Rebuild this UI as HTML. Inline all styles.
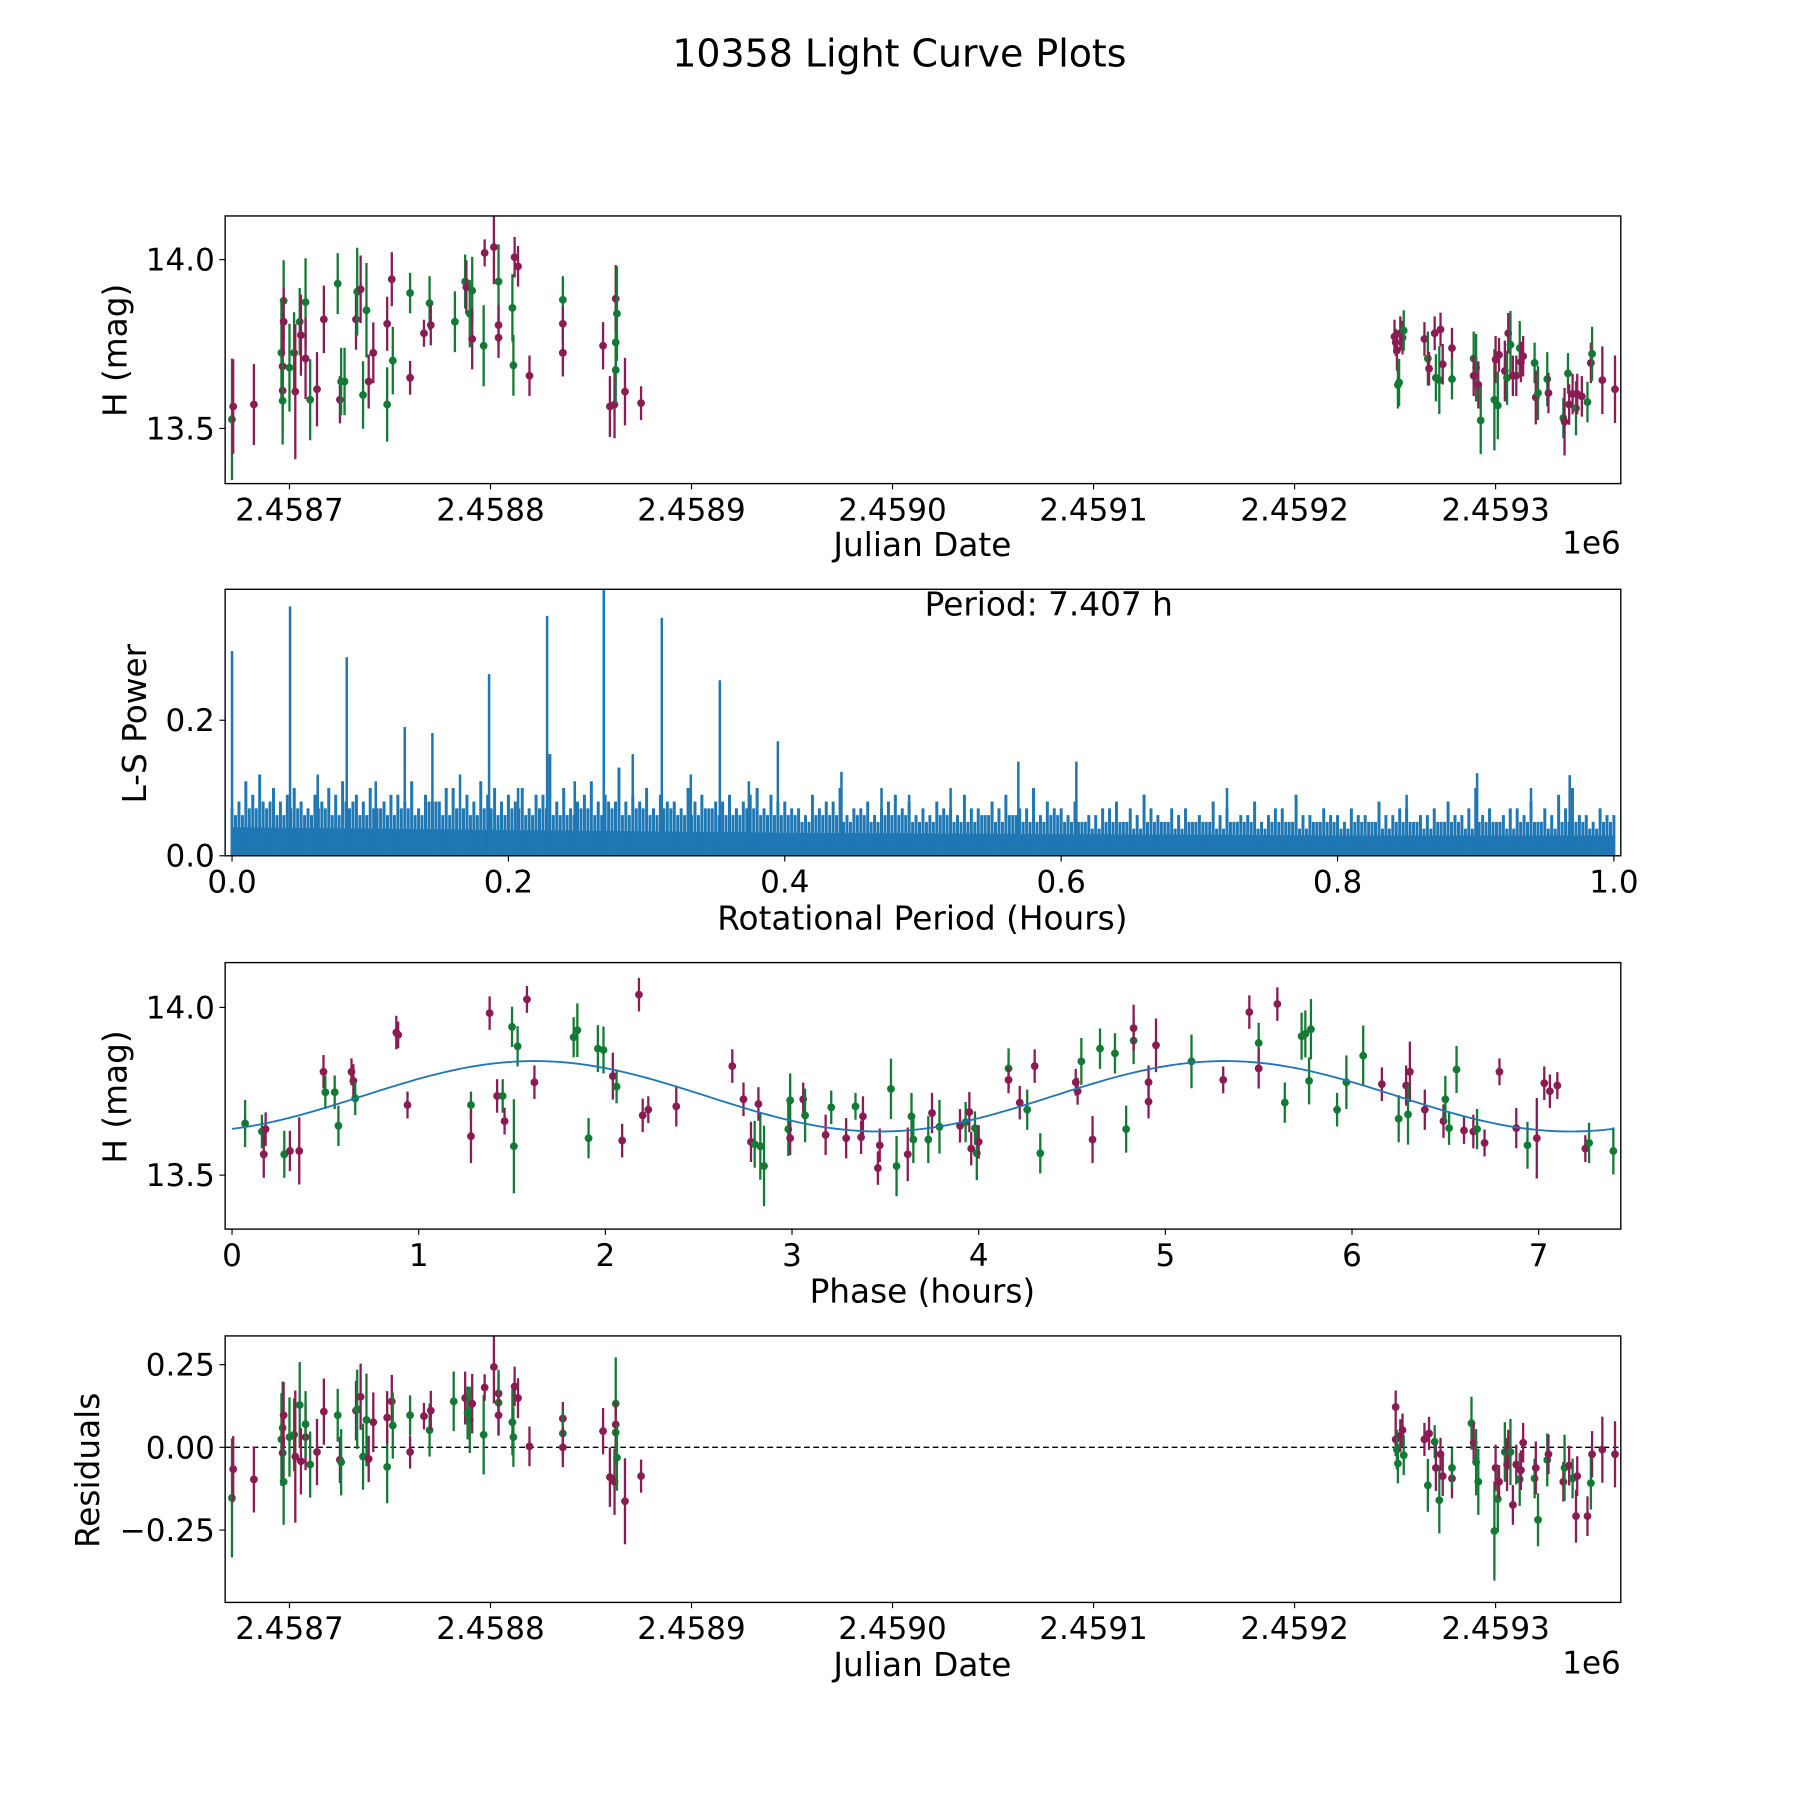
<!DOCTYPE html>
<html><head><meta charset="utf-8"><style>
html,body{margin:0;padding:0;background:#fff;}
svg{display:block;font-family:"DejaVu Sans","Liberation Sans",sans-serif;}
</style></head><body>
<svg id="fig" width="1800" height="1800" viewBox="0 0 1567 1567" xmlns="http://www.w3.org/2000/svg">
<rect width="1567" height="1567" fill="#fff"/>
<text x="783" y="58" font-size="33" text-anchor="middle">10358 Light Curve Plots</text>
<g id="root"></g>
</svg>
<script>
// ===== Panel 1: light curve vs Julian Date (day offset from 2458700) =====
const lcDays=[-28.6,-28,-17.7,-4,-3.4,-3.4,-3.4,-2.9,-2.9,0,2.3,2.9,5.1,5.7,8,8,10.3,13.7,17.1,24,25.1,25.7,27.4,33.1,33.7,35.4,36.6,38.3,39.4,41.7,48.6,48.6,50.9,51.4,60,60,66.9,69.7,70.3,82.3,87.4,88,89.7,90.9,90.9,96.6,97.1,101.7,104,104,104,110.9,111.4,112,113.7,119.4,136,136,136,156,159.4,161.7,162.3,162.3,162.3,162.9,166.9,174.9,
549.7,550.3,550.9,551.4,552,552.6,553.7,554.3,564.6,566.3,566.9,569.7,570.3,572,572.6,573.7,578.3,578.3,589.1,590.3,589.1,591.4,592.6,599.4,600,601.1,601.7,604.6,605.7,606.3,607.4,608.6,610.3,612,612.6,613.7,619.4,620,621.1,625.7,626.3,633.7,634.3,636,636.6,638.3,640,640.6,642.9,645.7,647.4,648,653.1,659.4];
const lcMag=[13.527,13.565,13.571,13.724,13.684,13.612,13.582,13.878,13.816,13.68,13.724,13.609,13.816,13.776,13.874,13.707,13.585,13.616,13.823,13.929,13.585,13.639,13.639,13.823,13.905,13.912,13.599,13.85,13.639,13.724,13.571,13.81,13.942,13.701,13.901,13.65,13.782,13.871,13.806,13.816,13.935,13.918,13.84,13.908,13.765,13.745,14.02,14.037,13.935,13.806,13.769,13.857,13.687,14.007,13.98,13.656,13.881,13.81,13.724,13.745,13.565,13.571,13.755,13.673,13.884,13.84,13.609,13.575,
13.772,13.755,13.731,13.629,13.636,13.782,13.769,13.79,13.765,13.707,13.677,13.782,13.65,13.643,13.793,13.69,13.738,13.646,13.707,13.68,13.656,13.629,13.524,13.585,13.704,13.568,13.718,13.67,13.65,13.782,13.748,13.656,13.656,13.738,13.697,13.714,13.694,13.592,13.605,13.646,13.605,13.531,13.52,13.663,13.571,13.602,13.56,13.602,13.595,13.578,13.694,13.721,13.643,13.616];
const lcErr=[.18,.14,.12,.15,.13,.12,.13,.12,.1,.13,.12,.2,.1,.12,.13,.12,.12,.11,.1,.09,.07,.1,.1,.09,.13,.1,.1,.14,.08,.09,.11,.08,.08,.1,.06,.05,.04,.08,.06,.09,.08,.08,.1,.1,.09,.12,.04,.11,.11,.06,.06,.1,.09,.06,.06,.06,.07,.05,.07,.07,.09,.1,.09,.1,.1,.14,.1,.05,
.05,.04,.06,.07,.07,.05,.05,.06,.05,.08,.05,.05,.07,.1,.05,.06,.06,.06,.08,.1,.06,.07,.1,.15,.07,.1,.05,.09,.08,.06,.1,.06,.06,.08,.06,.06,.06,.08,.08,.08,.06,.06,.1,.06,.06,.06,.08,.06,.06,.06,.06,.08,.1,.1];
const lcColorR=["m","m","m","g","g","m","m","g","m","g","m","m","g","g","m","m","m","g","g","g","m","m","g","g","m","g","m","m","g","m","g","m","m","g","m","m","g","m","g","g","m","g","m","g","m","m","g","m","m","g","m","g","m","m"];
const lcColorL=["g","m","m","g","m","m","g","g","m","g","g","m","g","m","g","m","g","m","m","g","m","g","g","m","g","m","g","g","m","m","g","m","m","g","g","m","m","g","m","g","g","m","g","g","m","g","m","m","g","m","m","g","g","m","m","m","g","m","m","m","m","m","g","g","m","g","m","m"];

// ===== Panel 2: periodogram =====
const psPeakX=[0.0,0.042,0.083,0.125,0.145,0.186,0.228,0.269,0.311,0.353,0.395,0.441,0.569,0.611,0.901,0.968,0.062,0.104,0.165,0.207,0.248,0.29,0.332,0.374,0.47,0.49,0.52,0.66,0.72,0.85,0.94];
const psPeakY=[0.302,0.368,0.293,0.19,0.181,0.268,0.354,0.393,0.351,0.259,0.169,0.124,0.139,0.139,0.122,0.119,0.12,0.11,0.12,0.1,0.11,0.15,0.12,0.11,0.1,0.09,0.1,0.09,0.1,0.09,0.1];
const psEnv=[.07,.11,.12,.10,.09,.08,.09,.10,.11,.09,
.10,.08,.09,.11,.09,.08,.10,.09,.11,.10,
.09,.10,.09,.15,.10,.08,.11,.09,.13,.09,
.10,.09,.08,.10,.09,.08,.09,.08,.10,.09,
.08,.07,.09,.08,.10,.07,.08,.07,.09,.08,
.07,.08,.07,.09,.07,.08,.09,.07,.10,.08,
.07,.08,.06,.07,.08,.07,.09,.06,.07,.07,
.06,.08,.07,.06,.08,.06,.07,.09,.06,.07,
.06,.07,.06,.08,.06,.07,.06,.07,.08,.06,
.10,.07,.06,.07,.08,.07,.09,.10,.06,.07,.06];
const psEnv2=[.08,.09,.07,.08,.10,.07,.08,.09,.07,.08,
.07,.09,.08,.07,.08,.10,.07,.08,.09,.08,
.08,.07,.09,.08,.07,.09,.08,.07,.08,.08,
.07,.08,.07,.08,.07,.08,.07,.09,.07,.08,
.07,.06,.07,.08,.06,.07,.06,.08,.07,.06,
.06,.07,.06,.07,.06,.07,.06,.07,.06,.07,
.06,.05,.06,.07,.05,.06,.07,.05,.06,.05,
.05,.06,.05,.06,.05,.07,.05,.06,.05,.06,
.05,.06,.05,.06,.07,.05,.06,.05,.06,.07,
.06,.05,.07,.06,.05,.06,.07,.06,.05,.06];
const psEnv3=[.06,.07,.08,.06,.07,.06,.07,.06,.08,.06,
.07,.06,.07,.06,.08,.06,.07,.06,.07,.06,
.07,.06,.07,.06,.06,.07,.06,.08,.06,.07,
.06,.07,.06,.06,.07,.06,.06,.07,.06,.06,
.06,.05,.06,.06,.05,.06,.05,.06,.06,.05,
.05,.06,.05,.05,.06,.05,.06,.05,.05,.06,
.05,.05,.04,.05,.05,.04,.05,.05,.04,.05,
.05,.04,.05,.05,.04,.05,.05,.04,.05,.05,
.04,.05,.05,.04,.05,.05,.04,.05,.05,.04,
.05,.05,.04,.05,.05,.04,.05,.05,.04,.05];
const psBase=[.042,.04,.038,.036,.034,.033,.032,.031,.03,.03,.03];
const psTicks=["0.0","0.2","0.4","0.6","0.8","1.0"];

// ===== Panel 3: phase-folded =====
const phX=[0.07,.16,.17,.18,.28,.31,.36,.49,.50,.55,.57,.64,.65,.66,.88,.89,.94,1.28,1.28,1.38,1.42,1.45,1.46,1.50,1.51,1.53,1.58,1.62,1.83,1.85,1.91,1.96,1.99,2.04,2.06,2.09,2.18,2.20,2.23,2.38,2.68,2.74,2.78,2.80,2.82,2.83,2.85,2.98,2.99,2.99,3.06,3.07,3.18,3.21,3.29,3.34,3.37,3.38,3.47,3.46,3.53,3.56,3.62,3.64,3.65,3.73,3.75,3.79,3.90,3.93,3.95,3.96,3.98,3.99,4.00,4.16,4.16,4.22,4.26,4.30,4.33,4.52,4.53,4.55,4.61,4.65,4.73,4.79,4.83,4.83,4.91,4.91,4.95,5.14,5.31,5.45,5.50,5.50,5.60,5.64,5.73,5.75,5.77,5.78,5.92,5.97,6.06,6.16,6.25,6.29,6.31,6.30,6.39,6.49,6.50,6.52,6.56,6.60,6.65,6.67,6.71,6.79,6.88,6.94,6.99,7.03,7.06,7.10,7.25,7.27,7.40];
const phMag=[13.654,13.63,13.562,13.637,13.562,13.572,13.572,13.808,13.747,13.747,13.647,13.808,13.781,13.729,13.925,13.918,13.709,13.709,13.616,13.983,13.736,13.736,13.661,13.942,13.586,13.884,14.024,13.777,13.911,13.932,13.61,13.877,13.873,13.795,13.764,13.603,14.038,13.678,13.695,13.705,13.825,13.726,13.599,13.592,13.712,13.586,13.527,13.637,13.723,13.61,13.726,13.678,13.62,13.702,13.61,13.705,13.613,13.675,13.589,13.521,13.757,13.527,13.562,13.675,13.606,13.606,13.685,13.644,13.647,13.658,13.688,13.579,13.64,13.565,13.599,13.818,13.784,13.716,13.695,13.825,13.565,13.777,13.75,13.839,13.606,13.877,13.863,13.637,13.901,13.938,13.777,13.719,13.887,13.839,13.784,13.986,13.894,13.818,14.01,13.716,13.914,13.921,13.781,13.935,13.695,13.777,13.856,13.771,13.668,13.767,13.808,13.681,13.695,13.661,13.726,13.64,13.815,13.633,13.63,13.637,13.596,13.808,13.64,13.589,13.61,13.774,13.75,13.767,13.579,13.596,13.572];
const phErr=[.07,.05,.07,.05,.07,.06,.1,.05,.05,.05,.06,.04,.05,.05,.05,.04,.04,.04,.08,.05,.05,.05,.04,.06,.14,.06,.04,.05,.06,.08,.06,.07,.07,.07,.05,.05,.05,.05,.04,.06,.05,.05,.06,.07,.05,.1,.12,.08,.08,.05,.05,.08,.06,.05,.06,.04,.05,.06,.05,.05,.09,.09,.08,.07,.07,.07,.06,.08,.05,.06,.06,.05,.05,.08,.05,.06,.04,.05,.06,.05,.06,.04,.04,.07,.07,.06,.06,.07,.07,.07,.05,.05,.08,.08,.04,.05,.06,.06,.05,.06,.07,.07,.07,.09,.05,.08,.09,.05,.07,.06,.09,.09,.06,.05,.07,.05,.07,.04,.05,.06,.04,.04,.06,.07,.12,.05,.05,.04,.04,.06,.07];
const phColor=["g","g","m","m","g","m","m","m","g","g","g","m","m","g","m","m","m","g","m","m","m","g","m","g","g","g","m","m","g","g","g","g","g","m","g","m","m","m","m","m","m","m","m","g","m","g","g","g","g","m","m","g","m","g","m","g","m","m","m","m","g","g","m","g","g","g","m","g","m","g","m","m","g","g","m","g","m","m","g","m","g","m","m","g","m","g","g","g","g","m","m","m","m","g","m","m","g","m","m","g","g","g","g","g","g","g","g","m","g","m","m","g","m","m","g","g","g","m","m","g","m","m","m","g","m","m","m","m","m","g","g"];
const fitMean=[13.735], fitAmp=[0.105], fitPeak=[1.62], fitPeriod=[3.70];
const phTicks=[0,1,2,3,4,5,6,7];

// ===== Panel 4: residuals =====
const rsDays=[-28.6,-28,-17.7,-4,-3.4,-3.4,-2.9,-2.9,0,2.3,2.9,5.1,5.7,8,8,10.3,13.7,17.1,24,25.1,25.7,33.1,33.7,35.4,36.6,38.3,39.4,41.7,48.6,48.6,50.9,51.4,60,60,66.9,69.7,70.3,81.7,87.4,88.6,89.7,90.9,96.6,97.1,101.7,104,104,104,110.9,111.4,112,113.7,119.4,136,136,136,156,159.4,161.7,162.3,162.3,162.3,162.9,166.9,174.9,
550.3,550.3,550.9,551.4,552.6,553.7,554.3,564.6,566.3,566.9,569.7,570.3,572,572.6,573.7,578.3,578.3,588,589.1,590.3,591.4,599.4,600,601.1,601.7,604.6,605.7,606.3,607.4,608.6,610.3,612,612.6,613.7,619.4,620,621.1,625.7,626.3,633.7,634.3,636.6,638.3,640,640.6,645.7,647.4,648,653.1,659.4];
const rsVal=[-0.153,-0.066,-0.097,0.024,0.059,-0.017,-0.104,0.097,0.031,0.038,-0.028,0.128,-0.042,0.031,0.07,-0.052,-0.014,0.108,0.097,-0.038,-0.045,0.111,0.115,0.153,-0.028,0.083,-0.035,0.076,-0.059,0.09,0.139,0.066,0.097,-0.014,0.094,0.052,0.111,0.139,0.149,0.104,0.083,0.132,0.038,0.181,0.243,0.163,0.135,0.097,0.076,0.031,0.184,0.149,0.003,0.087,0.042,0.0,0.049,-0.09,-0.104,0.132,0.045,0.069,-0.031,-0.163,-0.087,
0.122,0.024,-0.007,-0.049,0.035,0.052,-0.024,0.024,-0.115,0.042,0.017,-0.062,-0.16,-0.021,-0.087,-0.094,-0.062,0.073,0.014,-0.045,-0.104,-0.253,-0.062,-0.156,-0.104,-0.014,-0.052,-0.007,-0.014,-0.174,-0.052,-0.097,-0.069,0.014,-0.094,-0.062,-0.219,-0.038,-0.021,-0.104,-0.062,-0.055,-0.094,-0.208,-0.087,-0.208,-0.108,-0.021,-0.007,-0.021];
const rsErr=[.18,.1,.1,.14,.14,.1,.13,.1,.12,.11,.2,.13,.1,.1,.1,.1,.1,.1,.08,.07,.1,.09,.12,.1,.1,.14,.07,.09,.11,.08,.08,.1,.06,.05,.04,.08,.06,.09,.08,.08,.1,.09,.12,.04,.11,.06,.1,.06,.1,.09,.06,.06,.06,.05,.07,.06,.07,.09,.1,.14,.1,.07,.1,.13,.05,
.05,.05,.06,.06,.05,.05,.06,.05,.08,.05,.05,.07,.1,.05,.06,.06,.06,.08,.06,.1,.1,.15,.07,.1,.05,.09,.08,.06,.1,.06,.06,.08,.06,.06,.06,.08,.08,.08,.06,.06,.1,.06,.06,.08,.06,.06,.08,.07,.1,.1];
const rsColor=["g","m","m","g","g","m","g","m","g","g","m","g","m","m","g","g","m","m","g","m","g","m","g","m","g","g","m","m","g","m","m","g","g","m","m","g","m","g","m","g","g","m","g","m","m","m","g","m","g","g","m","m","m","m","g","m","m","m","m","g","g","m","g","m","m",
"m","m","g","g","m","m","g","m","g","m","g","m","g","m","m","m","g","g","m","g","g","g","m","g","m","g","m","m","g","m","m","g","m","m","g","m","g","g","m","m","g","m","g","m","m","m","g","m","m","m"];
const jdTicks=["2.4587","2.4588","2.4589","2.4590","2.4591","2.4592","2.4593"];
const jdTickDays=[0,100,200,300,400,500,600];

const NS="http://www.w3.org/2000/svg";
const root=document.getElementById('root');
const COL={m:"#8a1c53",g:"#127a34"};
function mk(tag,attrs,parent){const e=document.createElementNS(NS,tag);for(const k in attrs)e.setAttribute(k,attrs[k]);(parent||root).appendChild(e);return e;}
function txt(s,attrs,parent){const e=mk('text',attrs,parent);e.textContent=s;return e;}

const L=196,R=1411;
const P=[{t:188,b:421},{t:513,b:745},{t:838,b:1070},{t:1163,b:1395}];
const xJD=d=>252+d*1.75;
const y1=v=>226+(14-v)*294;
const xPS=v=>202+v*1203;
const y2=v=>745-v*590;
const xPh=v=>202+v*162.5;
const y3=v=>877+(14-v)*292;
const y4=v=>1260-v*288;

function frame(i,name){
  const g=mk('g',{});
  
  
  return g;
}
function border(g,i){
  const r=mk('rect',{x:L,y:P[i].t,width:R-L,height:P[i].b-P[i].t,fill:"none",stroke:"#000","stroke-width":1.2},g);
  
  
}
function xtick(g,x,b,label){
  mk('line',{x1:x,x2:x,y1:b,y2:b+5,stroke:"#000","stroke-width":1},g);
  const t=txt(label,{x:x,y:b+32,"font-size":27,"text-anchor":"middle"},g);
  
  
}
function ytick(g,y,label){
  mk('line',{x1:L-5,x2:L,y1:y,y2:y,stroke:"#000","stroke-width":1},g);
  const t=txt(label,{x:L-9,y:y+9.5,"font-size":27,"text-anchor":"end"},g);
  
  
}
function xlabel(g,s,y){const t=txt(s,{x:803,y:y,"font-size":28.5,"text-anchor":"middle"},g);
  }
function ylabel(g,s,x,y){const t=txt(s,{x:x,y:y,"font-size":28.5,"text-anchor":"middle",transform:`rotate(-90 ${x} ${y})`},g);
  }
function point(g,x,y,ey1,ey2,c,clipT,clipB){
  const grp=mk('g',{},g);
  
  
  const a=Math.max(Math.min(ey1,ey2),clipT), b=Math.min(Math.max(ey1,ey2),clipB);
  mk('line',{x1:x,x2:x,y1:a,y2:b,stroke:COL[c],"stroke-width":2},grp);
  if(y>=clipT-2&&y<=clipB+2) mk('circle',{cx:x,cy:y,r:3.4,fill:COL[c]},grp);
}

// Panel 1
(function(){
  const g=frame(0,'light-curve-panel');
  for(let i=0;i<lcDays.length;i++){
    const c=i<lcColorL.length?lcColorL[i]:lcColorR[i-lcColorL.length];
    point(g,xJD(lcDays[i]),y1(lcMag[i]),y1(lcMag[i]-lcErr[i]),y1(lcMag[i]+lcErr[i]),c||"m",P[0].t,P[0].b);
  }
  border(g,0);
  jdTicks.forEach((s,i)=>xtick(g,xJD(jdTickDays[i]),P[0].b,s));
  ytick(g,y1(14.0),"14.0");ytick(g,y1(13.5),"13.5");
  xlabel(g,"Julian Date",484);
  const e=txt("1e6",{x:R,y:482,"font-size":27,"text-anchor":"end"},g);
  
  ylabel(g,"H (mag)",110,305);
})();

// Panel 2
(function(){
  const g=frame(1,'periodogram-panel');
  const blue="#1f77b4";
  let pts=[];
  psBase.forEach((v,i)=>pts.push(xPS(i/10)+","+y2(v)));
  pts.push(xPS(1)+","+y2(0));pts.push(xPS(0)+","+y2(0));
  const pg=mk('polygon',{points:pts.join(" "),fill:blue},g);
  
  
  function spikes(arr,off){arr.forEach((v,i)=>{const x=xPS((i+off)/100);
    if(x>xPS(1)) return;
    const l=mk('line',{x1:x,x2:x,y1:y2(0),y2:y2(v),stroke:blue,"stroke-width":2.6},g);
    });}
  spikes(psEnv,0);spikes(psEnv2,0.5);spikes(psEnv3,0.25);spikes(psEnv3,0.75);
  psPeakX.forEach((v,i)=>{const x=xPS(v);
    const l=mk('line',{x1:x,x2:x,y1:y2(0),y2:Math.max(y2(psPeakY[i]),P[1].t),stroke:blue,"stroke-width":2.2},g);
    });
  border(g,1);
  psTicks.forEach((s,i)=>xtick(g,xPS(i*0.2),P[1].b,s));
  ytick(g,y2(0),"0.0");ytick(g,y2(0.2),"0.2");
  xlabel(g,"Rotational Period (Hours)",809);
  ylabel(g,"L-S Power",127,630);
  const t=txt("Period: 7.407 h",{x:913,y:536,"font-size":28.5,"text-anchor":"middle"},g);
  
})();

// Panel 3
(function(){
  const g=frame(2,'phase-folded-panel');
  for(let i=0;i<phX.length;i++){
    point(g,xPh(phX[i]),y3(phMag[i]),y3(phMag[i]-phErr[i]),y3(phMag[i]+phErr[i]),phColor[i]||"m",P[2].t,P[2].b);
  }
  let d="";
  for(let k=0;k<=300;k++){const p=7.4*k/300;
    const m=fitMean[0]+fitAmp[0]*Math.cos(2*Math.PI*(p-fitPeak[0])/fitPeriod[0]);
    d+=(k?"L":"M")+xPh(p).toFixed(2)+","+y3(m).toFixed(2);}
  const c=mk('path',{d:d,fill:"none",stroke:"#1f77b4","stroke-width":1.6},g);
  
  border(g,2);
  phTicks.forEach(v=>xtick(g,xPh(v),P[2].b,String(v)));
  ytick(g,y3(14.0),"14.0");ytick(g,y3(13.5),"13.5");
  xlabel(g,"Phase (hours)",1134);
  ylabel(g,"H (mag)",110,955);
})();

// Panel 4
(function(){
  const g=frame(3,'residuals-panel');
  const z=mk('line',{x1:L,x2:R,y1:y4(0),y2:y4(0),stroke:"#000","stroke-width":1.2,"stroke-dasharray":"5,3"},g);
  
  for(let i=0;i<rsDays.length;i++){
    point(g,xJD(rsDays[i]),y4(rsVal[i]),y4(rsVal[i]-rsErr[i]),y4(rsVal[i]+rsErr[i]),rsColor[i]||"m",P[3].t,P[3].b);
  }
  border(g,3);
  jdTicks.forEach((s,i)=>xtick(g,xJD(jdTickDays[i]),P[3].b,s));
  ytick(g,y4(0.25),"0.25");ytick(g,y4(0),"0.00");ytick(g,y4(-0.25),"\u22120.25");
  xlabel(g,"Julian Date",1459);
  const e=txt("1e6",{x:R,y:1457,"font-size":27,"text-anchor":"end"},g);
  
  ylabel(g,"Residuals",86,1280);
})();
</script>
</body></html>
